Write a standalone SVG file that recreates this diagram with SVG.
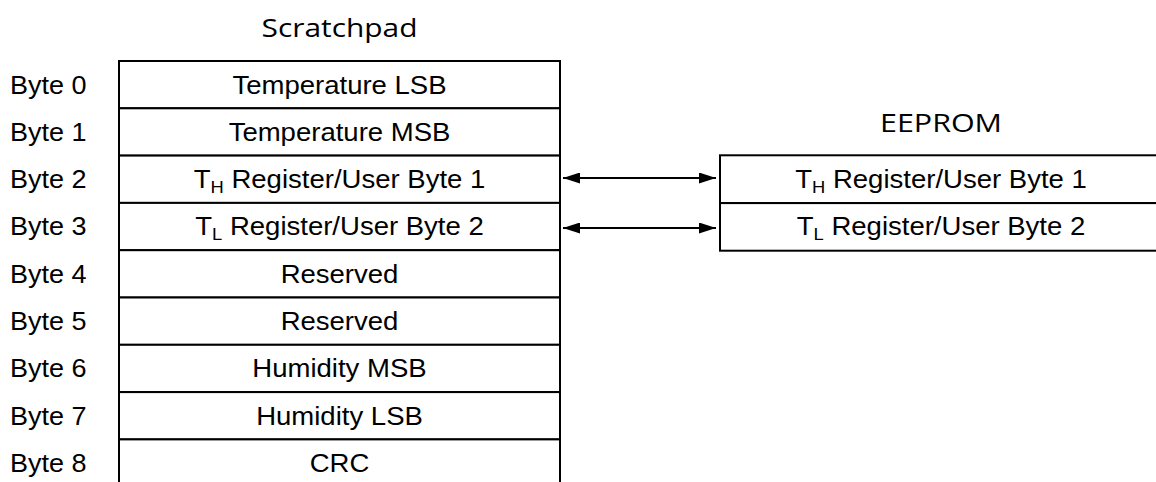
<svg xmlns="http://www.w3.org/2000/svg" width="1156" height="482" viewBox="0 0 1156 482">
<style>
.cell{fill:#fff;stroke:#000;stroke-width:2}
.t{font-family:"Liberation Sans",Arial,sans-serif;font-size:25.5px;fill:#000}
.m{text-anchor:middle}
.title{font-family:"Open Sans","Noto Sans",sans-serif;font-size:26px;fill:#000;text-anchor:middle}
.sub{font-size:17px}
.conn{stroke:#000;stroke-width:2;fill:none}
</style>
<defs>
<marker id="ah" viewBox="0 0 17 11" refX="17" refY="5.5" markerWidth="17" markerHeight="11" markerUnits="userSpaceOnUse" orient="auto-start-reverse">
<path d="M0,0 L17,5.5 L0,11 Z" fill="#000"/>
</marker>
</defs>
<rect width="1156" height="482" fill="#fff"/>
<text class="title" x="339.5" y="37" textLength="156" lengthAdjust="spacingAndGlyphs">Scratchpad</text>
<text class="title" x="941" y="132" textLength="122" lengthAdjust="spacingAndGlyphs">EEPROM</text>
<g id="scratchpad">
<g id="byte0"><rect class="cell" x="119" y="61" width="441" height="47.3"/><text class="t" transform="translate(10,93.5) scale(1.06,1)">Byte 0</text><text class="t m" transform="translate(339.5,93.5) scale(1.08,1)">Temperature LSB</text></g>
<g id="byte1"><rect class="cell" x="119" y="108.3" width="441" height="47.3"/><text class="t" transform="translate(10,140.8) scale(1.06,1)">Byte 1</text><text class="t m" transform="translate(339.5,140.8) scale(1.08,1)">Temperature MSB</text></g>
<g id="byte2"><rect class="cell" x="119" y="155.6" width="441" height="47.3"/><text class="t" transform="translate(10,188.1) scale(1.06,1)">Byte 2</text><text class="t m" transform="translate(339.5,188.1) scale(1.08,1)">T<tspan class="sub" dy="5">H</tspan><tspan dy="-5"> Register/User Byte 1</tspan></text></g>
<g id="byte3"><rect class="cell" x="119" y="202.9" width="441" height="47.3"/><text class="t" transform="translate(10,235.4) scale(1.06,1)">Byte 3</text><text class="t m" transform="translate(339.5,235.4) scale(1.08,1)">T<tspan class="sub" dy="5">L</tspan><tspan dy="-5"> Register/User Byte 2</tspan></text></g>
<g id="byte4"><rect class="cell" x="119" y="250.2" width="441" height="47.3"/><text class="t" transform="translate(10,282.7) scale(1.06,1)">Byte 4</text><text class="t m" transform="translate(339.5,282.7) scale(1.08,1)">Reserved</text></g>
<g id="byte5"><rect class="cell" x="119" y="297.5" width="441" height="47.3"/><text class="t" transform="translate(10,330) scale(1.06,1)">Byte 5</text><text class="t m" transform="translate(339.5,330) scale(1.08,1)">Reserved</text></g>
<g id="byte6"><rect class="cell" x="119" y="344.8" width="441" height="47.3"/><text class="t" transform="translate(10,377.3) scale(1.06,1)">Byte 6</text><text class="t m" transform="translate(339.5,377.3) scale(1.08,1)">Humidity MSB</text></g>
<g id="byte7"><rect class="cell" x="119" y="392.1" width="441" height="47.3"/><text class="t" transform="translate(10,424.6) scale(1.06,1)">Byte 7</text><text class="t m" transform="translate(339.5,424.6) scale(1.08,1)">Humidity LSB</text></g>
<g id="byte8"><rect class="cell" x="119" y="439.4" width="441" height="47.3"/><text class="t" transform="translate(10,471.9) scale(1.06,1)">Byte 8</text><text class="t m" transform="translate(339.5,471.9) scale(1.08,1)">CRC</text></g>
</g>
<g id="eeprom">
<g id="ee-th"><rect class="cell" x="720" y="155.3" width="442" height="47.8"/><text class="t m" transform="translate(941,188.1) scale(1.08,1)">T<tspan class="sub" dy="5">H</tspan><tspan dy="-5"> Register/User Byte 1</tspan></text></g>
<g id="ee-tl"><rect class="cell" x="720" y="203.1" width="442" height="47.6"/><text class="t m" transform="translate(941,235.4) scale(1.08,1)">T<tspan class="sub" dy="5">L</tspan><tspan dy="-5"> Register/User Byte 2</tspan></text></g>
</g>
<g id="connectors">
<line class="conn" x1="563" y1="178" x2="716" y2="178" marker-start="url(#ah)" marker-end="url(#ah)"/>
<line class="conn" x1="563" y1="228" x2="716" y2="228" marker-start="url(#ah)" marker-end="url(#ah)"/>
</g>
</svg>
